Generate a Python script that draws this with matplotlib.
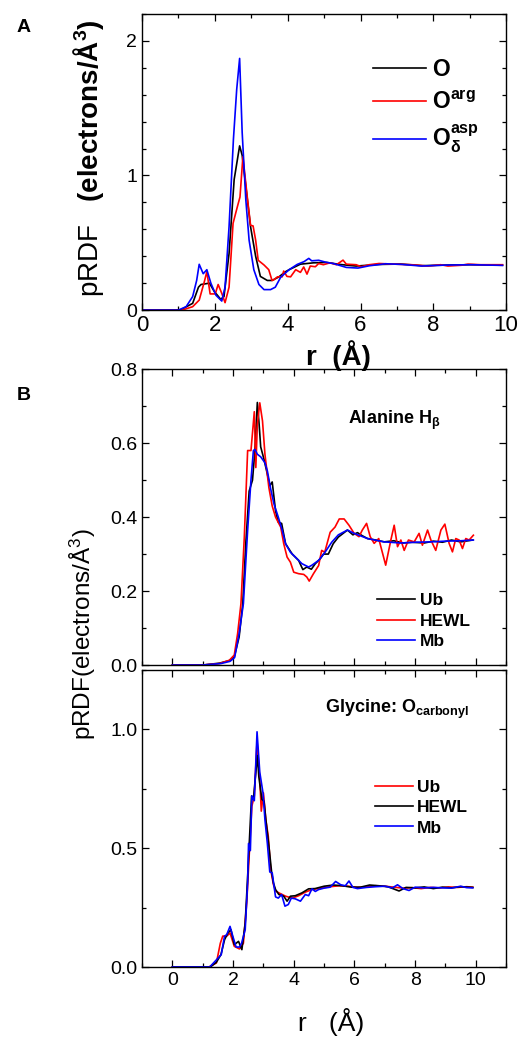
import matplotlib
matplotlib.use("Agg")
import matplotlib.pyplot as plt
from matplotlib.ticker import MultipleLocator, FormatStrFormatter

plt.rcParams['font.family'] = ['Liberation Sans', 'DejaVu Sans']
plt.rcParams['mathtext.fontset'] = 'custom'
plt.rcParams['mathtext.rm'] = 'Liberation Sans'
plt.rcParams['mathtext.bf'] = 'Liberation Sans:bold'
plt.rcParams['mathtext.it'] = 'Liberation Sans:italic'

# ---------------- Panel A data ----------------
a_o_r = [0, 1.05, 1.39, 1.55, 1.62, 1.85, 1.98, 2.16, 2.25, 2.39, 2.53, 2.68, 2.75, 2.85, 2.98,
         3.12, 3.25, 3.44, 3.57, 3.75, 3.94, 4.04, 4.35, 4.71, 5.07, 5.43, 5.88, 6.51, 7.1, 7.7,
         8.3, 9.0, 9.9]
a_o_v = [0, 0, 0.05, 0.17, 0.19, 0.20, 0.14, 0.08, 0.10, 0.42, 0.97, 1.22, 1.15, 0.92, 0.62,
         0.40, 0.25, 0.22, 0.22, 0.245, 0.285, 0.30, 0.341, 0.351, 0.354, 0.339, 0.327, 0.339, 0.342, 0.330,
         0.334, 0.337, 0.333]

a_arg_r = [0, 1.1, 1.39, 1.57, 1.71, 1.78, 1.87, 2.01, 2.09, 2.19, 2.28, 2.39, 2.5, 2.62, 2.69,
           2.77, 2.89, 2.98, 3.05, 3.12, 3.19, 3.35, 3.48, 3.57, 3.61, 3.72, 3.85, 3.89, 3.98, 4.08,
           4.22, 4.35, 4.44, 4.53, 4.62, 4.76, 4.85, 4.98, 5.16, 5.34, 5.52, 5.61, 5.88, 6.02, 6.24,
           6.51, 6.96, 7.4, 7.86, 8.2, 8.4, 8.77, 8.95, 9.3, 9.6, 9.9]
a_arg_v = [0, 0, 0.025, 0.074, 0.21, 0.285, 0.12, 0.12, 0.19, 0.124, 0.055, 0.17, 0.645, 0.77, 0.84,
           1.14, 0.84, 0.63, 0.625, 0.52, 0.37, 0.335, 0.30, 0.22, 0.223, 0.247, 0.247, 0.29, 0.25, 0.247,
           0.30, 0.28, 0.32, 0.267, 0.327, 0.322, 0.346, 0.337, 0.351, 0.337, 0.371, 0.341, 0.337, 0.322, 0.337,
           0.346, 0.341, 0.337, 0.327, 0.337, 0.327, 0.333, 0.341, 0.337, 0.337, 0.337]

a_asp_r = [0, 1.0, 1.21, 1.39, 1.5, 1.57, 1.68, 1.78, 1.89, 2.03, 2.19, 2.28, 2.39, 2.51, 2.6,
           2.68, 2.75, 2.85, 2.94, 3.07, 3.21, 3.35, 3.53, 3.66, 3.81, 4.04, 4.26, 4.45, 4.58, 4.66,
           4.85, 5.07, 5.25, 5.61, 5.93, 6.24, 6.69, 7.14, 7.68, 8.32, 9.04, 9.9]
a_asp_v = [0, 0, 0.025, 0.10, 0.22, 0.34, 0.27, 0.30, 0.20, 0.11, 0.067, 0.17, 0.62, 1.27, 1.64,
           1.87, 1.32, 0.82, 0.52, 0.30, 0.19, 0.152, 0.152, 0.17, 0.245, 0.30, 0.339, 0.36, 0.384, 0.366,
           0.37, 0.354, 0.346, 0.317, 0.312, 0.329, 0.344, 0.339, 0.327, 0.334, 0.337, 0.332]

# ---------------- Panel B (Alanine H_beta) ----------------
b1_ub_r = [0, 1.0, 1.55, 1.88, 2.04, 2.2, 2.32, 2.42, 2.53, 2.64, 2.72, 2.8, 2.86, 2.91, 3.02,
           3.13, 3.21, 3.29, 3.4, 3.49, 3.6, 3.73, 3.95, 4.16, 4.3, 4.43, 4.58, 4.71, 4.87, 4.98,
           5.14, 5.3, 5.47, 5.77, 5.95, 6.1, 6.25, 6.43, 6.7, 6.98, 7.3, 7.6, 7.9, 8.3, 8.6,
           8.9, 9.2, 9.5, 9.9]
b1_ub_v = [0, 0, 0.005, 0.012, 0.022, 0.076, 0.166, 0.33, 0.47, 0.50, 0.58, 0.71, 0.65, 0.59, 0.556,
           0.516, 0.485, 0.495, 0.417, 0.386, 0.383, 0.328, 0.30, 0.283, 0.258, 0.265, 0.259, 0.274, 0.287, 0.30,
           0.30, 0.328, 0.346, 0.365, 0.352, 0.358, 0.35, 0.342, 0.338, 0.333, 0.336, 0.330, 0.332, 0.330, 0.335,
           0.332, 0.338, 0.333, 0.338]

b1_hewl_r = [0, 1.0, 1.55, 1.88, 2.04, 2.15, 2.26, 2.37, 2.48, 2.59, 2.7, 2.75, 2.8, 2.88, 2.97,
             3.05, 3.18, 3.29, 3.4, 3.57, 3.67, 3.78, 3.89, 4.0, 4.16, 4.33, 4.43, 4.51, 4.65, 4.82,
             4.92, 5.02, 5.2, 5.36, 5.5, 5.66, 5.82, 5.99, 6.15, 6.26, 6.4, 6.52, 6.65, 6.8, 7.03,
             7.2, 7.31, 7.42, 7.53, 7.64, 7.78, 7.97, 8.13, 8.24, 8.41, 8.52, 8.68, 8.85, 8.98, 9.12,
             9.23, 9.34, 9.45, 9.56, 9.67, 9.78, 9.92]
b1_hewl_v = [0, 0, 0.004, 0.013, 0.027, 0.085, 0.166, 0.345, 0.58, 0.58, 0.685, 0.534, 0.65, 0.709, 0.66,
             0.57, 0.48, 0.43, 0.40, 0.373, 0.328, 0.292, 0.278, 0.251, 0.247, 0.245, 0.238, 0.227, 0.247, 0.269,
             0.31, 0.305, 0.359, 0.373, 0.395, 0.395, 0.378, 0.356, 0.347, 0.365, 0.383, 0.347, 0.329, 0.342, 0.27,
             0.338, 0.378, 0.32, 0.338, 0.31, 0.338, 0.333, 0.356, 0.324, 0.365, 0.338, 0.31, 0.365, 0.381, 0.329,
             0.306, 0.342, 0.338, 0.315, 0.342, 0.338, 0.351]

b1_mb_r = [0, 1.0, 1.6, 1.9, 2.05, 2.2, 2.34, 2.48, 2.59, 2.67, 2.72, 2.8, 2.91, 3.05, 3.13,
           3.24, 3.35, 3.49, 3.62, 3.73, 3.89, 4.05, 4.27, 4.49, 4.6, 4.82, 5.03, 5.25, 5.47, 5.77,
           5.99, 6.43, 6.98, 7.53, 8.0, 8.52, 9.0, 9.5, 9.92]
b1_mb_v = [0, 0, 0.004, 0.01, 0.02, 0.085, 0.166, 0.364, 0.50, 0.58, 0.583, 0.57, 0.563, 0.547, 0.525,
           0.476, 0.435, 0.40, 0.364, 0.328, 0.305, 0.292, 0.274, 0.265, 0.27, 0.283, 0.305, 0.332, 0.352, 0.365,
           0.356, 0.342, 0.333, 0.330, 0.332, 0.333, 0.335, 0.336, 0.338]

# ---------------- Panel B (Glycine O_carbonyl) ----------------
b2_ub_r = [0, 1.2, 1.45, 1.58, 1.66, 1.79, 1.9, 2.04, 2.21, 2.34, 2.45, 2.53, 2.62, 2.7, 2.79,
           2.88, 2.93, 3.0, 3.08, 3.16, 3.24, 3.33, 3.4, 3.51, 3.73, 3.95, 4.16, 4.38, 4.6, 4.9,
           5.2, 5.5, 5.8, 6.1, 6.4, 6.7, 7.0, 7.3, 7.6, 7.9, 8.2, 8.5, 8.8, 9.1, 9.4,
           9.7, 9.9]
b2_ub_v = [0, 0, 0.017, 0.10, 0.13, 0.13, 0.143, 0.087, 0.076, 0.10, 0.27, 0.466, 0.677, 0.72, 0.95,
           0.79, 0.656, 0.733, 0.62, 0.55, 0.41, 0.347, 0.32, 0.312, 0.298, 0.29, 0.30, 0.315, 0.326, 0.332,
           0.338, 0.342, 0.340, 0.335, 0.338, 0.342, 0.340, 0.336, 0.332, 0.334, 0.33, 0.335, 0.333, 0.337, 0.335,
           0.338, 0.336]

b2_hewl_r = [0, 1.25, 1.45, 1.6, 1.72, 1.83, 1.93, 2.04, 2.18, 2.29, 2.4, 2.48, 2.61, 2.67, 2.8,
             2.85, 2.95, 3.02, 3.08, 3.18, 3.27, 3.33, 3.4, 3.51, 3.67, 3.78, 3.89, 4.05, 4.27, 4.49,
             4.7, 5.0, 5.3, 5.6, 5.9, 6.2, 6.5, 6.8, 7.1, 7.47, 7.7, 8.0, 8.3, 8.6, 8.9,
             9.2, 9.5, 9.9]
b2_hewl_v = [0, 0, 0.02, 0.052, 0.115, 0.143, 0.157, 0.094, 0.108, 0.073, 0.185, 0.38, 0.72, 0.705, 0.89,
             0.80, 0.705, 0.698, 0.62, 0.51, 0.40, 0.354, 0.326, 0.305, 0.298, 0.277, 0.298, 0.30, 0.312, 0.329,
             0.33, 0.34, 0.345, 0.342, 0.336, 0.336, 0.345, 0.342, 0.338, 0.32, 0.335, 0.333, 0.337, 0.33, 0.336,
             0.333, 0.338, 0.335]

b2_mb_r = [0, 1.23, 1.45, 1.61, 1.72, 1.79, 1.9, 1.99, 2.1, 2.21, 2.28, 2.4, 2.48, 2.51, 2.57,
           2.62, 2.7, 2.79, 2.88, 2.99, 3.05, 3.13, 3.21, 3.29, 3.35, 3.4, 3.49, 3.6, 3.71, 3.82,
           3.92, 4.05, 4.22, 4.38, 4.49, 4.6, 4.71, 4.82, 5.0, 5.2, 5.38, 5.55, 5.7, 5.82, 5.95,
           6.1, 6.4, 6.7, 7.0, 7.25, 7.42, 7.6, 7.8, 8.0, 8.3, 8.6, 8.9, 9.2, 9.5, 9.7,
           9.9]
b2_mb_v = [0, 0, 0.03, 0.052, 0.13, 0.136, 0.171, 0.13, 0.084, 0.084, 0.10, 0.157, 0.354, 0.52, 0.49,
           0.72, 0.70, 0.99, 0.82, 0.73, 0.62, 0.52, 0.40, 0.396, 0.34, 0.295, 0.29, 0.305, 0.256, 0.263,
           0.29, 0.287, 0.277, 0.305, 0.30, 0.329, 0.318, 0.326, 0.332, 0.336, 0.36, 0.346, 0.342, 0.362, 0.335,
           0.33, 0.335, 0.338, 0.34, 0.333, 0.346, 0.33, 0.322, 0.336, 0.333, 0.335, 0.333, 0.332, 0.34, 0.334,
           0.333]

legend_a = ["$\\mathbf{O}$", "$\\mathbf{O}^{\\mathbf{arg}}$", "$\\mathbf{O}_{\\mathbf{δ}}^{\\mathbf{asp}}$"]
legend_b1 = ["Ub", "HEWL", "Mb"]
legend_b2 = ["Ub", "HEWL", "Mb"]

BLACK, RED, BLUE = "#000000", "#ff0000", "#0000ff"
LW = 1.2

fig = plt.figure(figsize=(5.3, 10.37), dpi=100)
axA = fig.add_axes([0.268, 0.701, 0.687, 0.2855])
ax1 = fig.add_axes([0.268, 0.3587, 0.687, 0.2853])
ax2 = fig.add_axes([0.268, 0.0675, 0.687, 0.2864])


def style(ax, xsize=14, ysize=14):
    ax.tick_params(which='both', direction='in', top=True, right=True, width=0.9)
    ax.tick_params(axis='x', labelsize=xsize)
    ax.tick_params(axis='y', labelsize=ysize)
    ax.tick_params(which='major', length=5)
    ax.tick_params(which='minor', length=3)
    for s in ax.spines.values():
        s.set_linewidth(1.0)


# Panel A
axA.plot(a_o_r, a_o_v, color=BLACK, lw=LW, label=legend_a[0])
axA.plot(a_arg_r, a_arg_v, color=RED, lw=LW, label=legend_a[1])
axA.plot(a_asp_r, a_asp_v, color=BLUE, lw=LW, label=legend_a[2])
axA.set_xlim(0, 10)
axA.set_ylim(0, 2.2)
axA.xaxis.set_major_locator(MultipleLocator(2))
axA.xaxis.set_minor_locator(MultipleLocator(1))
axA.yaxis.set_major_locator(MultipleLocator(1))
axA.yaxis.set_minor_locator(MultipleLocator(0.2))
style(axA, xsize=16, ysize=14)
axA.legend(loc='upper left', bbox_to_anchor=(0.604, 0.89), frameon=False, fontsize=16.5,
           handlelength=2.3, handletextpad=0.26, labelspacing=0.42, borderpad=0)

# Panel B top
ax1.plot(b1_ub_r, b1_ub_v, color=BLACK, lw=LW, label=legend_b1[0])
ax1.plot(b1_hewl_r, b1_hewl_v, color=RED, lw=LW, label=legend_b1[1])
ax1.plot(b1_mb_r, b1_mb_v, color=BLUE, lw=LW, label=legend_b1[2])
ax1.set_xlim(-1, 11)
ax1.set_ylim(0, 0.8)
ax1.xaxis.set_major_locator(MultipleLocator(2))
ax1.xaxis.set_minor_locator(MultipleLocator(1))
ax1.yaxis.set_major_locator(MultipleLocator(0.2))
ax1.yaxis.set_minor_locator(MultipleLocator(0.1))
ax1.yaxis.set_major_formatter(FormatStrFormatter('%.1f'))
ax1.tick_params(labelbottom=False)
style(ax1)
ax1.legend(loc='upper left', bbox_to_anchor=(0.622, 0.272), frameon=False,
           prop={'weight': 'bold', 'size': 12.5},
           handlelength=2.2, handletextpad=0.25, labelspacing=0.3, borderpad=0)
ax1.text(0.566, 0.828, "Alanine H$_{\\mathbf{β}}$", transform=ax1.transAxes,
         fontsize=13, fontweight='bold', va='center', ha='left')

# Panel B bottom
ax2.plot(b2_ub_r, b2_ub_v, color=RED, lw=LW, label=legend_b2[0])
ax2.plot(b2_hewl_r, b2_hewl_v, color=BLACK, lw=LW, label=legend_b2[1])
ax2.plot(b2_mb_r, b2_mb_v, color=BLUE, lw=LW, label=legend_b2[2])
ax2.set_xlim(-1, 11)
ax2.set_ylim(0, 1.25)
ax2.xaxis.set_major_locator(MultipleLocator(2))
ax2.xaxis.set_minor_locator(MultipleLocator(1))
ax2.yaxis.set_major_locator(MultipleLocator(0.5))
ax2.yaxis.set_minor_locator(MultipleLocator(0.25))
ax2.yaxis.set_major_formatter(FormatStrFormatter('%.1f'))
style(ax2)
ax2.legend(loc='upper left', bbox_to_anchor=(0.615, 0.66), frameon=False,
           prop={'weight': 'bold', 'size': 12.5},
           handlelength=2.2, handletextpad=0.25, labelspacing=0.3, borderpad=0)
ax2.text(0.503, 0.869, "Glycine: O$_{\\mathbf{carbonyl}}$", transform=ax2.transAxes,
         fontsize=13, fontweight='bold', va='center', ha='left')

W, H = 530.0, 1037.0
fig.text(24 / W, 1 - 28 / H, "A", fontsize=14, fontweight='bold', ha='center', va='center')
fig.text(24 / W, 1 - 395 / H, "B", fontsize=14, fontweight='bold', ha='center', va='center')
fig.text(88 / W, 1 - 158 / H, "pRDF   $\\mathbf{(electrons/Å^{3})}$", fontsize=20,
         rotation=90, ha='center', va='center')
fig.text(338 / W, 1 - 356 / H, "r  (Å)", fontsize=20, fontweight='bold', ha='center', va='center')
fig.text(83 / W, 1 - 634 / H, "pRDF(electrons/Å$^{3}$)", fontsize=17.5,
         rotation=90, ha='center', va='center')
fig.text(331 / W, 1 - 1022 / H, "r   (Å)", fontsize=19, ha='center', va='center')

fig.savefig("out.png", dpi=100)
